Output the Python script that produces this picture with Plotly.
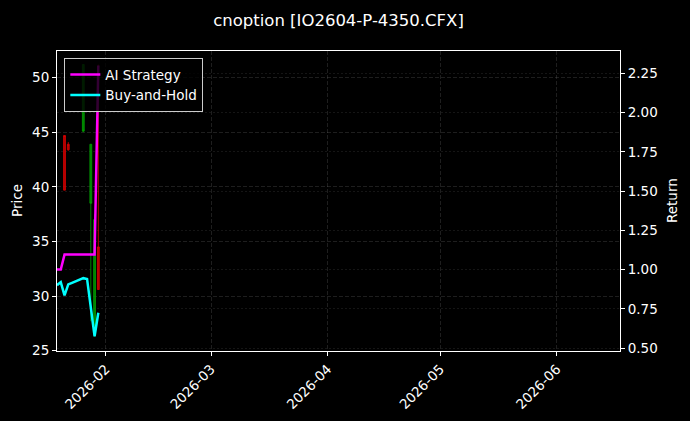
import plotly.graph_objects as go

# ---- data ----
line_dates = ["2026-01-19", "2026-01-20", "2026-01-21", "2026-01-22", "2026-01-23",
              "2026-01-26", "2026-01-27", "2026-01-28", "2026-01-29", "2026-01-30"]
ai_strategy = [1.00, 1.00, 1.095, 1.095, 1.095, 1.095, 1.095, 1.095, 1.095, 2.30]
buy_hold = [0.90, 0.92, 0.835, 0.905, 0.915, 0.945, 0.94, 0.76, 0.575, 0.725]

candle_dates = ["2026-01-21", "2026-01-22", "2026-01-26", "2026-01-28", "2026-01-29", "2026-01-30"]
c_open = [39.7, 43.4, 51.2, 43.9, 37.0, 30.6]
c_high = [44.7, 44.1, 51.2, 43.9, 37.5, 51.2]
c_low = [39.7, 43.3, 45.0, 27.7, 26.3, 30.6]
c_close = [44.7, 43.9, 45.1, 38.5, 27.3, 34.5]

x_ticks = ["2026-02-01", "2026-03-01", "2026-04-01", "2026-05-01", "2026-06-01"]
price_ticks = [25, 30, 35, 40, 45, 50]
return_ticks = [0.50, 0.75, 1.00, 1.25, 1.50, 1.75, 2.00, 2.25]

FONT = "DejaVu Sans"
GRID = "rgba(140,140,140,0.30)"
GRID2 = "rgba(140,140,140,0.22)"

L, T, PW, PH = 57, 51, 563, 300
W, H = 690, 421

fig = go.Figure()

fig.add_trace(go.Candlestick(
    x=candle_dates, open=c_open, high=c_high, low=c_low, close=c_close,
    increasing=dict(line=dict(color="rgba(220,0,0,0.8)", width=1.0), fillcolor="rgba(220,0,0,0.8)"),
    decreasing=dict(line=dict(color="rgba(0,160,0,0.8)", width=1.0), fillcolor="rgba(0,160,0,0.8)"),
    whiskerwidth=0, showlegend=False, yaxis="y", hoverinfo="skip",
))

fig.add_trace(go.Scatter(x=line_dates, y=ai_strategy, mode="lines", name="AI Strategy",
                         line=dict(color="#ff00ff", width=2.5), yaxis="y2"))
fig.add_trace(go.Scatter(x=line_dates, y=buy_hold, mode="lines", name="Buy-and-Hold",
                         line=dict(color="#00ffff", width=2.5), yaxis="y2"))

fig.update_layout(
    width=W, height=H,
    margin=dict(l=L, r=W - L - PW, t=T, b=H - T - PH, autoexpand=False),
    paper_bgcolor="black", plot_bgcolor="black",
    font=dict(family=FONT, color="white", size=13),
    title=dict(text="cnoption [IO2604-P-4350.CFX]", x=0.5, xref="paper", xanchor="center",
               y=1 - 20 / H, yref="container", yanchor="middle", font=dict(size=16.5, color="white")),
    xaxis=dict(
        type="date", range=["2026-01-19", "2026-06-17 20:00"],
        tickvals=x_ticks, tickformat="%Y-%m", tickangle=-45,
        showline=True, linecolor="white", linewidth=1, mirror=True,
        ticks="outside", ticklen=4, tickcolor="white",
        showgrid=True, gridcolor=GRID, griddash="4px,2px", gridwidth=0.7,
        zeroline=False, rangeslider=dict(visible=False), automargin=False,
        tickfont=dict(size=13.5),
    ),
    yaxis=dict(
        range=[24.97, 52.44], tickvals=price_ticks,
        showline=True, linecolor="white", linewidth=1,
        ticks="outside", ticklen=4, tickcolor="white",
        showgrid=True, gridcolor=GRID, griddash="4px,2px", gridwidth=0.7,
        zeroline=False, automargin=False, tickfont=dict(size=13.5),
    ),
    yaxis2=dict(
        range=[0.481, 2.392], tickvals=return_ticks, tickformat=".2f",
        overlaying="y", side="right",
        showline=True, linecolor="white", linewidth=1,
        ticks="outside", ticklen=4, tickcolor="white",
        showgrid=True, gridcolor=GRID2, griddash="2px,2px", gridwidth=0.7,
        zeroline=False, automargin=False, tickfont=dict(size=13.5),
    ),
    legend=dict(
        x=0.013, y=0.976, xanchor="left", yanchor="top",
        bgcolor="rgba(0,0,0,0.8)", bordercolor="#cccccc", borderwidth=1,
        font=dict(size=13.5, color="white"), itemwidth=30,
    ),
    annotations=[
        dict(text="Price", x=(17 - 57) / PW, xref="paper", y=0.5, yref="paper", showarrow=False,
             textangle=-90, font=dict(size=13.5, color="white"), xanchor="center", yanchor="middle"),
        dict(text="Return", x=(672 - 57) / PW, xref="paper", y=0.5, yref="paper", showarrow=False,
             textangle=-90, font=dict(size=13.5, color="white"), xanchor="center", yanchor="middle"),
    ],
    showlegend=True,
)

fig.write_html(
    "out.html",
    config={"displayModeBar": False, "staticPlot": True},
    post_script="document.documentElement.style.background='black';"
                "document.body.style.margin='0';document.body.style.background='black';"
                "document.body.style.overflow='hidden';",
)
